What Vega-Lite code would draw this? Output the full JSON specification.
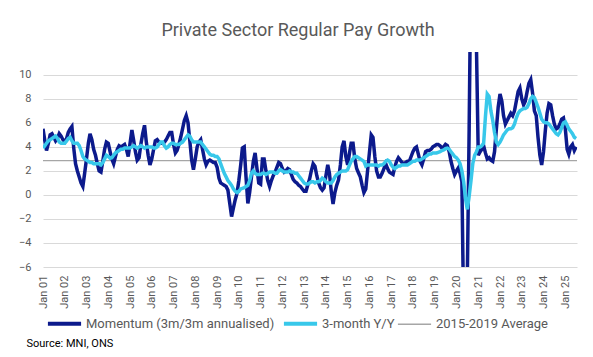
{
"$schema": "https://vega.github.io/schema/vega-lite/v6.json",
"width": 534, "height": 215,
"autosize": {"type": "none"},
"padding": {"left": 43, "top": 52, "right": 16, "bottom": 90},
"background": "white",
"config": {"view": {"stroke": null}, "font": "Roboto"},
"title": {"text": "Private Sector Regular Pay Growth", "fontSize": 18, "font": "Roboto", "fontWeight": "normal", "color": "#595959", "anchor": "middle", "frame": "bounds", "offset": 12},
"datasets": {"pay": [
{"d":"2001/01/01","m":5.5,"y":3.9},{"d":"2001/02/01","m":4.5,"y":4.1},{"d":"2001/03/01","m":3.7,"y":4.3},{"d":"2001/04/01","m":4.3,"y":4.5},{"d":"2001/05/01","m":5.0,"y":4.6},{"d":"2001/06/01","m":5.1,"y":4.7},{"d":"2001/07/01","m":4.8,"y":4.8},{"d":"2001/08/01","m":4.5,"y":4.9},{"d":"2001/09/01","m":4.7,"y":4.7},{"d":"2001/10/01","m":5.1,"y":4.4},{"d":"2001/11/01","m":4.9,"y":4.3},{"d":"2001/12/01","m":4.6,"y":4.3},
{"d":"2002/01/01","m":4.4,"y":4.3},{"d":"2002/02/01","m":4.7,"y":4.5},{"d":"2002/03/01","m":5.2,"y":4.7},{"d":"2002/04/01","m":5.5,"y":4.8},{"d":"2002/05/01","m":5.7,"y":4.5},{"d":"2002/06/01","m":3.9,"y":4.3},{"d":"2002/07/01","m":2.6,"y":4.3},{"d":"2002/08/01","m":2.0,"y":4.3},{"d":"2002/09/01","m":1.5,"y":4.1},{"d":"2002/10/01","m":1.0,"y":3.7},{"d":"2002/11/01","m":0.7,"y":3.2},{"d":"2002/12/01","m":1.8,"y":3.0},
{"d":"2003/01/01","m":3.0,"y":2.9},{"d":"2003/02/01","m":4.3,"y":2.8},{"d":"2003/03/01","m":5.1,"y":2.7},{"d":"2003/04/01","m":4.6,"y":2.7},{"d":"2003/05/01","m":3.8,"y":2.6},{"d":"2003/06/01","m":3.3,"y":2.6},{"d":"2003/07/01","m":2.6,"y":2.6},{"d":"2003/08/01","m":2.0,"y":2.6},{"d":"2003/09/01","m":1.9,"y":2.5},{"d":"2003/10/01","m":2.8,"y":2.7},{"d":"2003/11/01","m":3.8,"y":3.0},{"d":"2003/12/01","m":4.4,"y":3.3},
{"d":"2004/01/01","m":4.3,"y":3.2},{"d":"2004/02/01","m":3.6,"y":3.05},{"d":"2004/03/01","m":3.0,"y":3.1},{"d":"2004/04/01","m":2.6,"y":3.3},{"d":"2004/05/01","m":3.2,"y":3.5},{"d":"2004/06/01","m":3.8,"y":3.6},{"d":"2004/07/01","m":4.1,"y":3.7},{"d":"2004/08/01","m":4.0,"y":3.8},{"d":"2004/09/01","m":4.1,"y":3.8},{"d":"2004/10/01","m":4.2,"y":3.9},{"d":"2004/11/01","m":3.8,"y":3.9},{"d":"2004/12/01","m":3.2,"y":3.9},
{"d":"2005/01/01","m":4.3,"y":3.9},{"d":"2005/02/01","m":5.4,"y":4.0},{"d":"2005/03/01","m":4.6,"y":4.1},{"d":"2005/04/01","m":3.6,"y":4.0},{"d":"2005/05/01","m":2.9,"y":3.9},{"d":"2005/06/01","m":3.1,"y":4.0},{"d":"2005/07/01","m":4.2,"y":4.1},{"d":"2005/08/01","m":5.1,"y":4.0},{"d":"2005/09/01","m":5.8,"y":3.9},{"d":"2005/10/01","m":4.4,"y":4.0},{"d":"2005/11/01","m":3.3,"y":4.0},{"d":"2005/12/01","m":2.5,"y":4.0},
{"d":"2006/01/01","m":3.0,"y":4.0},{"d":"2006/02/01","m":3.8,"y":3.9},{"d":"2006/03/01","m":4.5,"y":3.9},{"d":"2006/04/01","m":4.6,"y":4.0},{"d":"2006/05/01","m":4.4,"y":4.2},{"d":"2006/06/01","m":4.3,"y":4.4},{"d":"2006/07/01","m":4.3,"y":4.4},{"d":"2006/08/01","m":4.4,"y":4.1},{"d":"2006/09/01","m":4.6,"y":3.9},{"d":"2006/10/01","m":4.9,"y":4.0},{"d":"2006/11/01","m":5.2,"y":4.2},{"d":"2006/12/01","m":5.2,"y":4.3},
{"d":"2007/01/01","m":4.2,"y":4.3},{"d":"2007/02/01","m":3.5,"y":4.2},{"d":"2007/03/01","m":3.7,"y":4.2},{"d":"2007/04/01","m":4.2,"y":4.2},{"d":"2007/05/01","m":4.8,"y":4.3},{"d":"2007/06/01","m":5.5,"y":4.4},{"d":"2007/07/01","m":6.2,"y":4.6},{"d":"2007/08/01","m":6.6,"y":4.8},{"d":"2007/09/01","m":6.0,"y":5.0},{"d":"2007/10/01","m":4.5,"y":4.9},{"d":"2007/11/01","m":2.9,"y":4.6},{"d":"2007/12/01","m":2.1,"y":4.4},
{"d":"2008/01/01","m":3.0,"y":4.4},{"d":"2008/02/01","m":4.0,"y":4.4},{"d":"2008/03/01","m":4.4,"y":4.4},{"d":"2008/04/01","m":4.6,"y":4.4},{"d":"2008/05/01","m":3.8,"y":4.2},{"d":"2008/06/01","m":3.0,"y":4.0},{"d":"2008/07/01","m":2.5,"y":3.8},{"d":"2008/08/01","m":2.8,"y":3.6},{"d":"2008/09/01","m":2.9,"y":3.4},{"d":"2008/10/01","m":2.8,"y":3.3},{"d":"2008/11/01","m":2.7,"y":3.3},{"d":"2008/12/01","m":2.7,"y":3.2},
{"d":"2009/01/01","m":2.3,"y":3.2},{"d":"2009/02/01","m":1.4,"y":3.0},{"d":"2009/03/01","m":1.0,"y":2.6},{"d":"2009/04/01","m":0.9,"y":2.2},{"d":"2009/05/01","m":0.8,"y":1.8},{"d":"2009/06/01","m":0.7,"y":1.5},{"d":"2009/07/01","m":0.4,"y":1.2},{"d":"2009/08/01","m":-0.7,"y":1.0},{"d":"2009/09/01","m":-1.8,"y":0.8},{"d":"2009/10/01","m":-1.1,"y":0.5},{"d":"2009/11/01","m":-0.4,"y":0.3},{"d":"2009/12/01","m":0.15,"y":0.2},
{"d":"2010/01/01","m":1.2,"y":0.3},{"d":"2010/02/01","m":2.5,"y":0.5},{"d":"2010/03/01","m":3.9,"y":0.55},{"d":"2010/04/01","m":4.0,"y":0.6},{"d":"2010/05/01","m":1.5,"y":0.7},{"d":"2010/06/01","m":-0.7,"y":0.8},{"d":"2010/07/01","m":0.2,"y":1.2},{"d":"2010/08/01","m":1.5,"y":1.8},{"d":"2010/09/01","m":2.8,"y":2.0},{"d":"2010/10/01","m":3.5,"y":1.8},{"d":"2010/11/01","m":2.2,"y":1.7},{"d":"2010/12/01","m":1.0,"y":1.7},
{"d":"2011/01/01","m":0.9,"y":1.7},{"d":"2011/02/01","m":3.0,"y":1.8},{"d":"2011/03/01","m":3.0,"y":1.8},{"d":"2011/04/01","m":2.0,"y":1.7},{"d":"2011/05/01","m":1.2,"y":1.8},{"d":"2011/06/01","m":0.7,"y":1.9},{"d":"2011/07/01","m":1.2,"y":1.9},{"d":"2011/08/01","m":1.6,"y":1.9},{"d":"2011/09/01","m":1.9,"y":1.8},{"d":"2011/10/01","m":2.3,"y":1.8},{"d":"2011/11/01","m":2.7,"y":2.0},{"d":"2011/12/01","m":2.6,"y":2.1},
{"d":"2012/01/01","m":2.2,"y":2.0},{"d":"2012/02/01","m":1.9,"y":1.9},{"d":"2012/03/01","m":2.0,"y":1.9},{"d":"2012/04/01","m":2.2,"y":1.9},{"d":"2012/05/01","m":2.1,"y":2.0},{"d":"2012/06/01","m":1.7,"y":1.9},{"d":"2012/07/01","m":1.3,"y":1.9},{"d":"2012/08/01","m":1.1,"y":1.8},{"d":"2012/09/01","m":1.0,"y":1.8},{"d":"2012/10/01","m":0.8,"y":1.6},{"d":"2012/11/01","m":0.7,"y":1.4},{"d":"2012/12/01","m":0.5,"y":1.2},
{"d":"2013/01/01","m":0.3,"y":1.0},{"d":"2013/02/01","m":0.3,"y":0.9},{"d":"2013/03/01","m":0.8,"y":0.9},{"d":"2013/04/01","m":1.3,"y":1.0},{"d":"2013/05/01","m":2.0,"y":1.1},{"d":"2013/06/01","m":2.6,"y":1.1},{"d":"2013/07/01","m":2.4,"y":1.0},{"d":"2013/08/01","m":1.6,"y":1.1},{"d":"2013/09/01","m":1.0,"y":1.1},{"d":"2013/10/01","m":0.6,"y":1.2},{"d":"2013/11/01","m":0.4,"y":1.4},{"d":"2013/12/01","m":0.6,"y":1.3},
{"d":"2014/01/01","m":1.6,"y":1.1},{"d":"2014/02/01","m":2.5,"y":1.0},{"d":"2014/03/01","m":1.8,"y":1.0},{"d":"2014/04/01","m":0.3,"y":1.0},{"d":"2014/05/01","m":-0.75,"y":1.2},{"d":"2014/06/01","m":0.2,"y":1.5},{"d":"2014/07/01","m":0.8,"y":1.7},{"d":"2014/08/01","m":1.25,"y":1.8},{"d":"2014/09/01","m":2.5,"y":1.9},{"d":"2014/10/01","m":4.0,"y":2.0},{"d":"2014/11/01","m":4.5,"y":2.0},{"d":"2014/12/01","m":3.2,"y":2.0},
{"d":"2015/01/01","m":2.5,"y":2.1},{"d":"2015/02/01","m":3.5,"y":2.5},{"d":"2015/03/01","m":4.3,"y":2.8},{"d":"2015/04/01","m":4.3,"y":3.0},{"d":"2015/05/01","m":3.0,"y":3.2},{"d":"2015/06/01","m":2.2,"y":3.2},{"d":"2015/07/01","m":1.85,"y":3.1},{"d":"2015/08/01","m":1.5,"y":3.0},{"d":"2015/09/01","m":0.8,"y":2.9},{"d":"2015/10/01","m":0.2,"y":2.8},{"d":"2015/11/01","m":0.5,"y":2.4},{"d":"2015/12/01","m":2.0,"y":2.5},
{"d":"2016/01/01","m":3.5,"y":2.5},{"d":"2016/02/01","m":5.0,"y":2.5},{"d":"2016/03/01","m":4.8,"y":2.5},{"d":"2016/04/01","m":3.2,"y":2.5},{"d":"2016/05/01","m":2.0,"y":2.5},{"d":"2016/06/01","m":1.5,"y":2.4},{"d":"2016/07/01","m":1.5,"y":2.5},{"d":"2016/08/01","m":1.8,"y":2.5},{"d":"2016/09/01","m":2.2,"y":2.6},{"d":"2016/10/01","m":2.6,"y":2.8},{"d":"2016/11/01","m":2.2,"y":2.9},{"d":"2016/12/01","m":1.9,"y":2.8},
{"d":"2017/01/01","m":1.8,"y":2.5},{"d":"2017/02/01","m":1.7,"y":2.3},{"d":"2017/03/01","m":2.3,"y":2.2},{"d":"2017/04/01","m":2.8,"y":2.3},{"d":"2017/05/01","m":3.1,"y":2.4},{"d":"2017/06/01","m":2.9,"y":2.4},{"d":"2017/07/01","m":2.7,"y":2.5},{"d":"2017/08/01","m":2.6,"y":2.5},{"d":"2017/09/01","m":2.7,"y":2.5},{"d":"2017/10/01","m":2.8,"y":2.5},{"d":"2017/11/01","m":2.8,"y":2.6},{"d":"2017/12/01","m":3.2,"y":2.7},
{"d":"2018/01/01","m":3.6,"y":2.8},{"d":"2018/02/01","m":3.9,"y":2.8},{"d":"2018/03/01","m":4.0,"y":2.9},{"d":"2018/04/01","m":3.4,"y":2.9},{"d":"2018/05/01","m":2.8,"y":2.9},{"d":"2018/06/01","m":2.5,"y":3.0},{"d":"2018/07/01","m":3.0,"y":3.1},{"d":"2018/08/01","m":3.6,"y":3.2},{"d":"2018/09/01","m":3.7,"y":3.3},{"d":"2018/10/01","m":3.7,"y":3.4},{"d":"2018/11/01","m":3.8,"y":3.4},{"d":"2018/12/01","m":4.0,"y":3.5},
{"d":"2019/01/01","m":4.1,"y":3.5},{"d":"2019/02/01","m":4.2,"y":3.5},{"d":"2019/03/01","m":4.2,"y":3.55},{"d":"2019/04/01","m":4.1,"y":3.6},{"d":"2019/05/01","m":3.9,"y":3.7},{"d":"2019/06/01","m":4.0,"y":3.75},{"d":"2019/07/01","m":4.2,"y":3.85},{"d":"2019/08/01","m":4.1,"y":3.9},{"d":"2019/09/01","m":3.6,"y":3.8},{"d":"2019/10/01","m":2.8,"y":3.6},{"d":"2019/11/01","m":2.2,"y":3.4},{"d":"2019/12/01","m":1.7,"y":3.2},
{"d":"2020/01/01","m":2.0,"y":3.1},{"d":"2020/02/01","m":2.25,"y":2.9},{"d":"2020/03/01","m":1.8,"y":2.6},{"d":"2020/04/01","m":1.1,"y":2.0},{"d":"2020/05/01","m":-10,"y":1.1},{"d":"2020/06/01","m":-14,"y":-0.3},{"d":"2020/07/01","m":-7,"y":-1.2},{"d":"2020/08/01","m":5.5,"y":-0.1},{"d":"2020/09/01","m":20,"y":1.2},{"d":"2020/10/01","m":24,"y":2.6},{"d":"2020/11/01","m":22,"y":3.3},{"d":"2020/12/01","m":12.5,"y":3.6},
{"d":"2021/01/01","m":3.3,"y":4.0},{"d":"2021/02/01","m":3.6,"y":4.0},{"d":"2021/03/01","m":3.8,"y":4.1},{"d":"2021/04/01","m":4.1,"y":4.3},{"d":"2021/05/01","m":3.5,"y":6.5},{"d":"2021/06/01","m":3.0,"y":8.4},{"d":"2021/07/01","m":3.1,"y":8.2},{"d":"2021/08/01","m":2.9,"y":7.0},{"d":"2021/09/01","m":2.8,"y":6.2},{"d":"2021/10/01","m":3.6,"y":5.2},{"d":"2021/11/01","m":5.5,"y":4.4},{"d":"2021/12/01","m":7.3,"y":4.2},
{"d":"2022/01/01","m":8.4,"y":4.4},{"d":"2022/02/01","m":7.8,"y":4.7},{"d":"2022/03/01","m":6.6,"y":5.0},{"d":"2022/04/01","m":5.9,"y":5.2},{"d":"2022/05/01","m":6.2,"y":5.4},{"d":"2022/06/01","m":6.5,"y":5.5},{"d":"2022/07/01","m":6.8,"y":5.5},{"d":"2022/08/01","m":6.6,"y":5.6},{"d":"2022/09/01","m":7.0,"y":5.9},{"d":"2022/10/01","m":7.8,"y":6.4},{"d":"2022/11/01","m":8.6,"y":6.8},{"d":"2022/12/01","m":8.9,"y":7.0},
{"d":"2023/01/01","m":8.0,"y":7.1},{"d":"2023/02/01","m":7.5,"y":7.2},{"d":"2023/03/01","m":7.8,"y":7.2},{"d":"2023/04/01","m":8.6,"y":7.3},{"d":"2023/05/01","m":9.3,"y":7.6},{"d":"2023/06/01","m":9.6,"y":8.0},{"d":"2023/07/01","m":8.5,"y":8.2},{"d":"2023/08/01","m":7.0,"y":8.1},{"d":"2023/09/01","m":6.6,"y":7.7},{"d":"2023/10/01","m":4.8,"y":7.3},{"d":"2023/11/01","m":3.3,"y":6.8},{"d":"2023/12/01","m":2.5,"y":6.3},
{"d":"2024/01/01","m":3.6,"y":6.1},{"d":"2024/02/01","m":5.4,"y":6.0},{"d":"2024/03/01","m":6.8,"y":6.0},{"d":"2024/04/01","m":7.6,"y":5.9},{"d":"2024/05/01","m":7.5,"y":5.7},{"d":"2024/06/01","m":6.6,"y":5.5},{"d":"2024/07/01","m":5.9,"y":5.3},{"d":"2024/08/01","m":5.5,"y":5.1},{"d":"2024/09/01","m":5.6,"y":5.0},{"d":"2024/10/01","m":5.9,"y":5.2},{"d":"2024/11/01","m":6.3,"y":5.6},{"d":"2024/12/01","m":6.4,"y":6.0},
{"d":"2025/01/01","m":5.5,"y":6.1},{"d":"2025/02/01","m":3.8,"y":5.8},{"d":"2025/03/01","m":3.4,"y":5.5},{"d":"2025/04/01","m":4.0,"y":5.3},{"d":"2025/05/01","m":4.2,"y":5.1},{"d":"2025/06/01","m":3.7,"y":4.8},{"d":"2025/07/01","m":4.0,"y":4.7}
], "avg": [{"v": 2.85}]},
"layer": [
 {"data": {"name": "avg"},
  "mark": {"type": "rule", "strokeWidth": 1.3},
  "encoding": {
   "y": {"field": "v", "type": "quantitative", "scale": {"domain": [-6, 11.9], "nice": false, "zero": false},
         "axis": {"values": [-6,-4,-2,0,2,4,6,8,10], "title": null, "domain": false, "ticks": false, "labelPadding": 12, "labelOverlap": false, "labelFontSize": 11, "labelFont": "Roboto", "labelColor": "#595959", "gridColor": "#d9d9d9", "gridWidth": 1}},
   "color": {"datum": "2015-2019 Average"}
  }},
 {"data": {"name": "pay"},
  "mark": {"type": "line", "clip": true, "strokeWidth": 3.5},
  "encoding": {
   "x": {"field": "d", "type": "temporal",
         "scale": {"domain": [{"year": 2001, "month": 1, "date": 1}, {"year": 2025, "month": 7, "date": 16}]},
         "axis": {"format": "%b %y", "tickCount": {"interval": "year", "step": 1}, "labelAngle": 270, "labelFontSize": 11, "labelFont": "Roboto", "labelColor": "#595959", "grid": false, "domain": false, "ticks": false, "labelPadding": 8, "labelOverlap": false, "labelFlush": false,
                  "title": "Source: MNI, ONS", "titleX": -17, "titleY": 76, "titleAnchor": "start", "titleAlign": "left", "titleBaseline": "middle", "titleFontSize": 11, "titleFont": "Roboto", "titleFontWeight": "normal", "titleColor": "#000000"}},
   "y": {"field": "m", "type": "quantitative",
         "axis": {"values": [-6,-4,-2,0,2,4,6,8,10], "title": null, "domain": false, "ticks": false, "labelPadding": 12, "labelOverlap": false, "labelFontSize": 11, "labelFont": "Roboto", "labelColor": "#595959", "gridColor": "#d9d9d9", "gridWidth": 1}},
   "color": {"datum": "Momentum (3m/3m annualised)",
             "scale": {"domain": ["Momentum (3m/3m annualised)", "3-month Y/Y", "2015-2019 Average"], "range": ["#0c1a8c", "#38c8ea", "#a6a6a6"]},
             "legend": {"orient": "none", "legendX": 15, "legendY": 265, "direction": "horizontal", "title": null, "symbolType": "stroke", "symbolSize": 1100, "labelFontSize": 13, "labelFont": "Roboto", "labelColor": "#595959", "labelLimit": 400, "columnPadding": 0, "labelOffset": 15,
                        "encode": {"symbols": {"update": {"strokeWidth": {"signal": "datum.value === '2015-2019 Average' ? 1.3 : 4"}}}}}}
  }},
 {"data": {"name": "pay"},
  "mark": {"type": "line", "clip": true, "strokeWidth": 3.5},
  "encoding": {
   "x": {"field": "d", "type": "temporal"},
   "y": {"field": "y", "type": "quantitative",
         "axis": {"values": [-6,-4,-2,0,2,4,6,8,10], "title": null, "domain": false, "ticks": false, "labelPadding": 12, "labelOverlap": false, "labelFontSize": 11, "labelFont": "Roboto", "labelColor": "#595959", "gridColor": "#d9d9d9", "gridWidth": 1}},
   "color": {"datum": "3-month Y/Y"}
  }}
]
}
